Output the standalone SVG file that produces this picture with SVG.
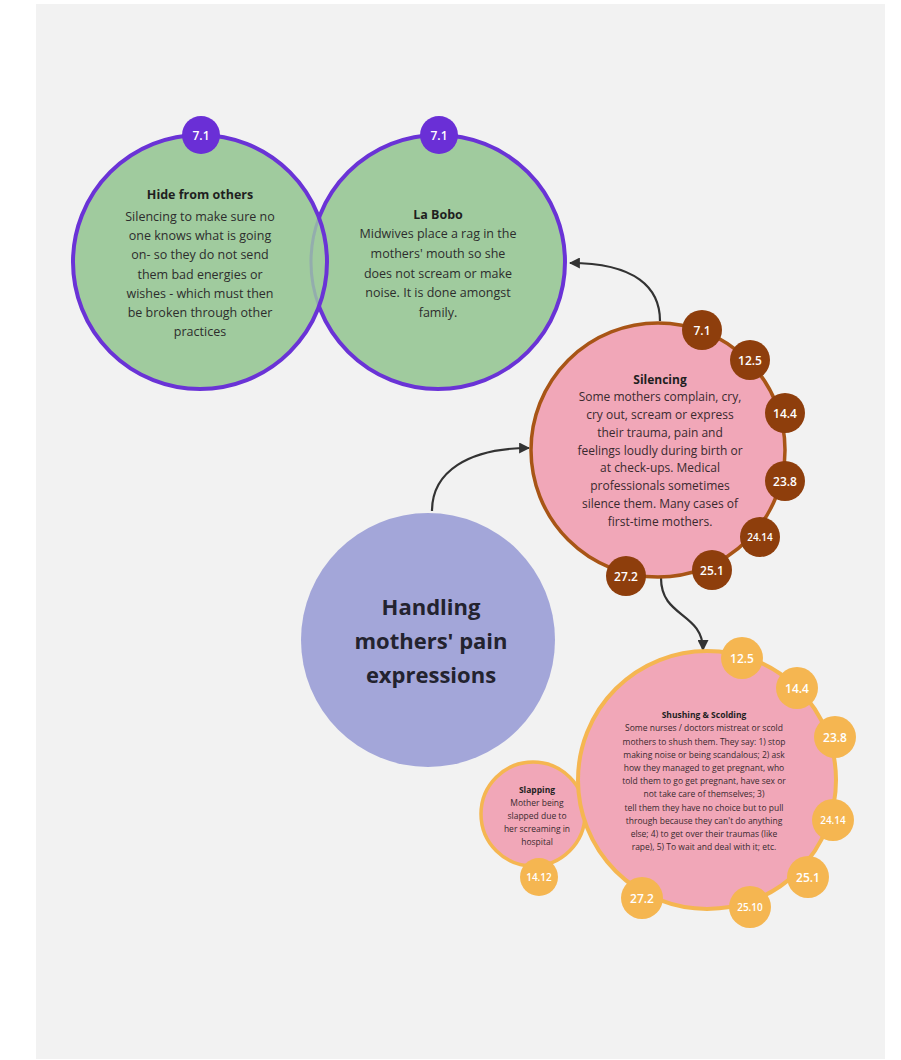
<svg xmlns="http://www.w3.org/2000/svg" width="901" height="1060" viewBox="0 0 901 1060">
<style>
text{font-family:"Open Sans","Noto Sans","Liberation Sans",sans-serif;text-anchor:middle}
.g{fill:#a0cb9e;stroke:#6a33d6;stroke-width:4}
.pb{fill:#6a2fd6}
.bt{fill:#ffffff;font-size:12px;font-weight:600}
.gt{fill:#2d2d2d;font-size:12.5px}
.gh{fill:#1f1f1f;font-size:12.5px;font-weight:700}
.pk{fill:#f1a7b8}
.br{fill:#8e3e0c}
.st{fill:#3a2a2f;font-size:12px}
.sh{fill:#1f1f1f;font-size:12px;font-weight:700}
.or{fill:#f5b651}
.small{fill:#3a2a2f;font-size:8.5px}
.smallh{fill:#1f1f1f;font-size:8.5px;font-weight:700}
.conn{fill:none;stroke:#333333;stroke-width:2.2}
</style>
<defs>
<marker id="arr" viewBox="0 0 10 10" refX="9" refY="5" markerWidth="11" markerHeight="11" markerUnits="userSpaceOnUse" orient="auto">
<path d="M0,0 L10,5 L0,10 z" fill="#333333"/>
</marker>
</defs>
<rect x="0" y="0" width="901" height="1060" fill="#ffffff"/>
<rect x="36" y="4" width="849" height="1055" fill="#f2f2f2"/>

<g id="connectors">
<path class="conn" d="M 432 511 C 432 472, 468 448, 529 448" marker-end="url(#arr)"/>
<path class="conn" d="M 660 321 C 660 288, 636 263, 570 263" marker-end="url(#arr)"/>
<path class="conn" d="M 661 578 C 661 618, 703 612, 703 650" marker-end="url(#arr)"/>
</g>

<g id="la-bobo">
<circle class="g" cx="438" cy="262" r="127"/>
<circle class="pb" cx="439" cy="135" r="19"/>
<text class="bt" x="439" y="139.5">7.1</text>
<text class="gh" x="438" y="219">La Bobo</text>
<text class="gt" x="438" y="238">Midwives place a rag in the</text>
<text class="gt" x="438" y="258">mothers' mouth so she</text>
<text class="gt" x="438" y="278">does not scream or make</text>
<text class="gt" x="438" y="297">noise. It is done amongst</text>
<text class="gt" x="438" y="317">family.</text>
</g>

<g id="hide-from-others">
<circle cx="200" cy="262" r="127" fill="#a0cb9e"/>
<path d="M 319 217.6 A 127 127 0 0 0 319 306.4" fill="none" stroke="#8a9ab8" stroke-opacity="0.6" stroke-width="3"/>
<circle cx="200" cy="262" r="127" fill="none" stroke="#6a33d6" stroke-width="4"/>
<circle class="pb" cx="201" cy="135" r="19"/>
<text class="bt" x="201" y="139.5">7.1</text>
<text class="gh" x="200" y="199">Hide from others</text>
<text class="gt" x="200" y="221">Silencing to make sure no</text>
<text class="gt" x="200" y="240">one knows what is going</text>
<text class="gt" x="200" y="259">on- so they do not send</text>
<text class="gt" x="200" y="279">them bad energies or</text>
<text class="gt" x="200" y="298">wishes - which must then</text>
<text class="gt" x="200" y="317">be broken through other</text>
<text class="gt" x="200" y="336">practices</text>
</g>

<g id="silencing">
<circle class="pk" cx="658" cy="450" r="127" stroke="#a85516" stroke-width="3.5"/>
<text class="sh" x="660" y="384">Silencing</text>
<text class="st" x="660" y="401">Some mothers complain, cry,</text>
<text class="st" x="660" y="419">cry out, scream or express</text>
<text class="st" x="660" y="437">their trauma, pain and</text>
<text class="st" x="660" y="455">feelings loudly during birth or</text>
<text class="st" x="660" y="472">at check-ups. Medical</text>
<text class="st" x="660" y="490">professionals sometimes</text>
<text class="st" x="660" y="508">silence them. Many cases of</text>
<text class="st" x="660" y="526">first-time mothers.</text>
<circle class="br" cx="702" cy="330" r="20"/><text class="bt" x="702" y="334.5">7.1</text>
<circle class="br" cx="750" cy="360" r="20"/><text class="bt" x="750" y="364.5">12.5</text>
<circle class="br" cx="785" cy="413" r="20"/><text class="bt" x="785" y="417.5">14.4</text>
<circle class="br" cx="785" cy="481" r="20"/><text class="bt" x="785" y="485.5">23.8</text>
<circle class="br" cx="760" cy="537" r="20"/><text class="bt" x="760" y="540.5" style="font-size:10px">24.14</text>
<circle class="br" cx="712" cy="570" r="20"/><text class="bt" x="712" y="574.5">25.1</text>
<circle class="br" cx="626" cy="576" r="20"/><text class="bt" x="626" y="580.5">27.2</text>
</g>

<g id="handling">
<circle cx="428" cy="640" r="127" fill="#a3a6d9"/>
<text x="431" y="615" style="font-size:22px;font-weight:700;fill:#23232f">Handling</text>
<text x="431" y="649" style="font-size:22px;font-weight:700;fill:#23232f">mothers' pain</text>
<text x="431" y="683" style="font-size:22px;font-weight:700;fill:#23232f">expressions</text>
</g>

<g id="slapping">
<circle class="pk" cx="533" cy="814" r="52" stroke="#f5b651" stroke-width="3.5"/>
<text class="smallh" x="537" y="793">Slapping</text>
<text class="small" x="537" y="806">Mother being</text>
<text class="small" x="537" y="819">slapped due to</text>
<text class="small" x="537" y="832">her screaming in</text>
<text class="small" x="537" y="845">hospital</text>
</g>

<g id="shushing-scolding">
<circle class="pk" cx="707" cy="780" r="129" stroke="#f5b651" stroke-width="4"/>
<text class="smallh" x="704" y="718">Shushing &amp; Scolding</text>
<text class="small" x="704" y="731">Some nurses / doctors mistreat or scold</text>
<text class="small" x="704" y="745">mothers to shush them. They say: 1) stop</text>
<text class="small" x="704" y="758">making noise or being scandalous; 2) ask</text>
<text class="small" x="704" y="771">how they managed to get pregnant, who</text>
<text class="small" x="704" y="784">told them to go get pregnant, have sex or</text>
<text class="small" x="704" y="797">not take care of themselves; 3)</text>
<text class="small" x="704" y="811">tell them they have no choice but to pull</text>
<text class="small" x="704" y="824">through because they can't do anything</text>
<text class="small" x="704" y="837">else; 4) to get over their traumas (like</text>
<text class="small" x="704" y="850">rape), 5) To wait and deal with it; etc.</text>
<circle class="or" cx="742" cy="658" r="21"/><text class="bt" x="742" y="662.5">12.5</text>
<circle class="or" cx="797" cy="688" r="21"/><text class="bt" x="797" y="692.5">14.4</text>
<circle class="or" cx="835" cy="737" r="21"/><text class="bt" x="835" y="741.5">23.8</text>
<circle class="or" cx="833" cy="820" r="21"/><text class="bt" x="833" y="823.5" style="font-size:10px">24.14</text>
<circle class="or" cx="808" cy="877" r="21"/><text class="bt" x="808" y="881.5">25.1</text>
<circle class="or" cx="750" cy="907" r="21"/><text class="bt" x="750" y="910.5" style="font-size:10px">25.10</text>
<circle class="or" cx="642" cy="898" r="21"/><text class="bt" x="642" y="902.5">27.2</text>
</g>

<g id="slapping-badge">
<circle class="or" cx="539" cy="877" r="19"/><text class="bt" x="539" y="880.5" style="font-size:10px">14.12</text>
</g>
</svg>
